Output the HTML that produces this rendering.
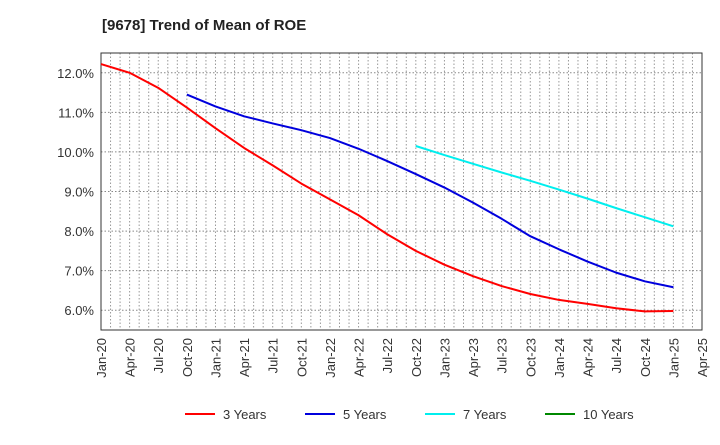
<!DOCTYPE html>
<html><head><meta charset="utf-8"><style>
body{margin:0;background:#fff;font-family:"Liberation Sans",sans-serif}
</style></head><body>
<svg id="c" width="720" height="440" xmlns="http://www.w3.org/2000/svg" font-family="Liberation Sans, sans-serif">
<text x="102" y="30" font-size="15" font-weight="bold" fill="#222">[9678]  Trend of Mean of ROE</text>
<g id="grid"></g><g id="axes"></g><g id="series"></g><g id="legend"></g>
</svg>
<script>
const xLabels=["Jan-20","Apr-20","Jul-20","Oct-20","Jan-21","Apr-21","Jul-21","Oct-21","Jan-22","Apr-22","Jul-22","Oct-22","Jan-23","Apr-23","Jul-23","Oct-23","Jan-24","Apr-24","Jul-24","Oct-24","Jan-25","Apr-25"];
const yTicks=[6,7,8,9,10,11,12];
const seriesNames=["3 Years","5 Years","7 Years","10 Years"];
const seriesColors=["#ff0000","#0000dd","#00eeee","#008800"];
const s3Start=0;
const s3=[12.22,12.0,11.62,11.12,10.6,10.1,9.66,9.2,8.8,8.4,7.92,7.5,7.15,6.86,6.61,6.41,6.26,6.16,6.05,5.97,5.98];
const s5Start=3;
const s5=[11.45,11.15,10.9,10.72,10.55,10.35,10.08,9.77,9.44,9.1,8.72,8.31,7.87,7.54,7.23,6.95,6.73,6.58];
const s7Start=11;
const s7=[10.15,9.92,9.7,9.48,9.27,9.05,8.82,8.58,8.35,8.12];
const s10Start=0;
const s10=[];
const L=101,R=702,T=53,B=330,ymin=5.5,ymax=12.5,nQ=xLabels.length-1;
const X=q=>L+(R-L)*q/nQ;
const Y=v=>B-(B-T)*(v-ymin)/(ymax-ymin);
const NS="http://www.w3.org/2000/svg";
function mk(p,t,a){const e=document.createElementNS(NS,t);for(const k in a)e.setAttribute(k,a[k]);p.appendChild(e);return e;}
const grid=document.getElementById('grid'),axes=document.getElementById('axes'),ser=document.getElementById('series'),leg=document.getElementById('legend');
for(let m=1;m<nQ*3;m++){const x=L+(R-L)*m/(nQ*3);const g=mk(grid,'line',{x1:x,x2:x,y1:T,y2:B,stroke:'#999','stroke-dasharray':'1.5,2','stroke-width':1});

}
yTicks.forEach(v=>{const g=mk(grid,'line',{x1:L,x2:R,y1:Y(v),y2:Y(v),stroke:'#888','stroke-dasharray':'1.5,2'});


const t=mk(axes,'text',{x:L-7,y:Y(v)+5,'text-anchor':'end','font-size':13,fill:'#333'});t.textContent=v.toFixed(1)+'%';

});
const fr=mk(axes,'rect',{x:L,y:T,width:R-L,height:B-T,fill:'none',stroke:'#333','stroke-width':1});


xLabels.forEach((lb,i)=>{const x=X(i);const t=mk(axes,'text',{x:0,y:0,'text-anchor':'end','font-size':13,fill:'#333',transform:`translate(${x+5},${B+8}) rotate(-90)`});t.textContent=lb;

});
function line(data,start,col,name){if(!data.length)return;const pts=data.map((v,i)=>X(start+i)+','+Y(v)).join(' ');
const p=mk(ser,'polyline',{points:pts,fill:'none',stroke:col,'stroke-width':2,'stroke-linejoin':'round'});

}
line(s3,s3Start,seriesColors[0],'line-3-years');
line(s5,s5Start,seriesColors[1],'line-5-years');
line(s7,s7Start,seriesColors[2],'line-7-years');
line(s10,s10Start,seriesColors[3],'line-10-years');
seriesNames.forEach((n,i)=>{const x0=185+i*120;const g=mk(leg,'g',{});


mk(g,'line',{x1:x0,x2:x0+30,y1:414,y2:414,stroke:seriesColors[i],'stroke-width':2});
const t=mk(g,'text',{x:x0+38,y:419,'font-size':13,fill:'#333'});t.textContent=n;});
</script>
</body></html>
